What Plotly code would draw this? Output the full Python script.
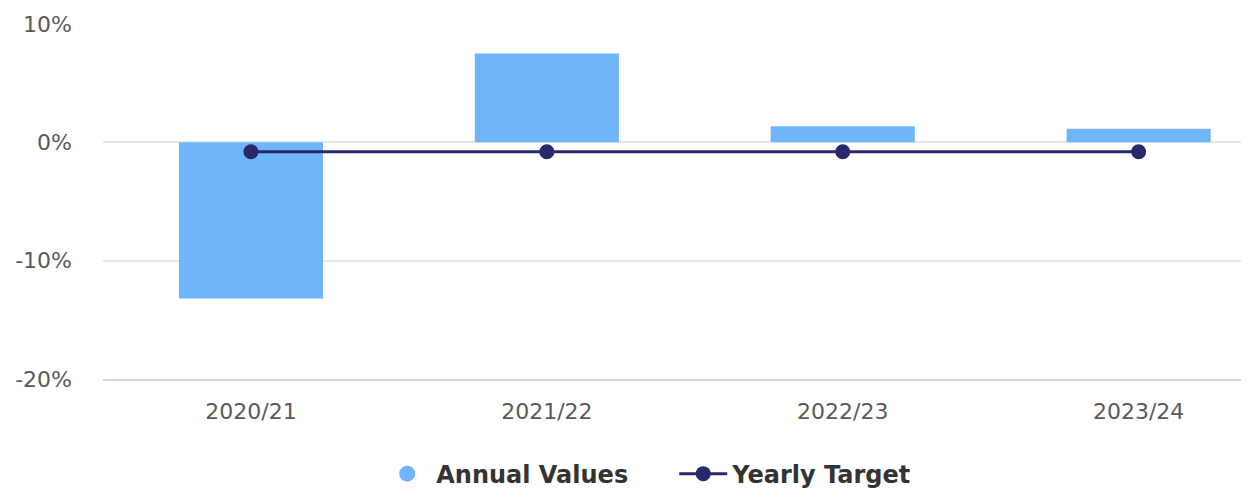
from plotly import graph_objects as go

years = ['2020/21', '2021/22', '2022/23', '2023/24']
annualValues = [-13.2, 7.5, 1.35, 1.15]
yearlyTarget = [-0.8, -0.8, -0.8, -0.8]
yTicks = [-20, -10, 0, 10]

barColor = '#70b5fa'
lineColor = '#28286a'
tickFont = dict(family='DejaVu Sans, sans-serif', size=22, color='#5a5a5a')

fig = go.Figure()
fig.add_trace(go.Bar(x=years, y=annualValues, marker=dict(color=barColor, line=dict(width=0)),
                     width=0.487, name='Annual Values', showlegend=False))
# legend entry drawn as a circle, like the original
fig.add_trace(go.Scatter(x=[None], y=[None], mode='markers', name='Annual Values',
                         marker=dict(color=barColor, size=20, symbol='circle')))
fig.add_trace(go.Scatter(x=years, y=yearlyTarget, mode='lines+markers', name='Yearly Target',
                         line=dict(color=lineColor, width=3), marker=dict(color=lineColor, size=15)))

fig.update_layout(
    width=1249, height=488, autosize=False,
    margin=dict(l=95, r=0, t=16, b=117),
    plot_bgcolor='white', paper_bgcolor='white',
    font=tickFont,
    legend=dict(orientation='h', x=0.495, xanchor='center', yref='container', y=0.045, yanchor='middle',
                font=dict(family='DejaVu Sans, sans-serif', size=24, color='#333333', weight='bold'),
                traceorder='normal', itemwidth=48, entrywidth=233),
    bargap=0.5,
)
fig.update_xaxes(range=[-0.5, 3.4], showgrid=False, zeroline=False, showline=True,
                 linecolor='#ccd6eb', linewidth=2, ticks='', ticklabelstandoff=12, tickfont=tickFont)
fig.update_yaxes(range=[-20, 10], tickvals=yTicks, ticktext=[f'{v}%' for v in yTicks],
                 showgrid=True, gridcolor='#e6e6e6', gridwidth=1.5, zeroline=True,
                 zerolinecolor='#e6e6e6', zerolinewidth=1.5, showline=False,
                 ticklabelstandoff=30, tickfont=tickFont)

fig.write_html('out.html')
